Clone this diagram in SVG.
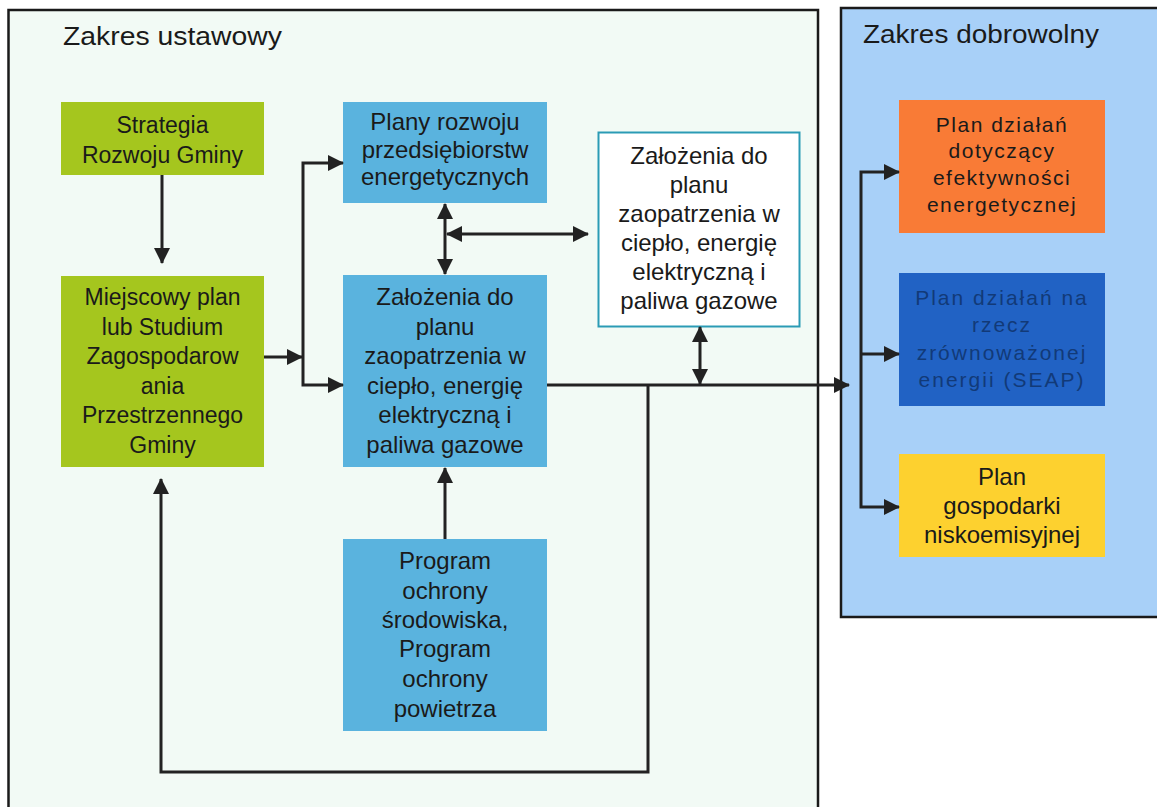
<svg xmlns="http://www.w3.org/2000/svg" width="1157" height="807" viewBox="0 0 1157 807">
<style>
text{font-family:"Liberation Sans",Arial,sans-serif;fill:#1a1a1a;text-anchor:middle}
.title{font-size:26px;text-anchor:start}
.t23{font-size:23px}
.t24{font-size:24px}
.t21{font-size:21px;letter-spacing:1.5px}
.seap{font-size:21px;letter-spacing:2px;fill:#123a78}
.t24y{font-size:24px}
.conn{fill:none;stroke:#222;stroke-width:3}
</style>
<defs>
<marker id="ah" markerUnits="userSpaceOnUse" viewBox="0 0 16 16" refX="15" refY="8" markerWidth="16" markerHeight="16" orient="auto-start-reverse">
<path d="M0,0 L16,8 L0,16 z" fill="#222"/>
</marker>
</defs>
<rect width="1157" height="807" fill="#ffffff"/>
<g id="panel-ustawowy">
<rect x="8.5" y="10" width="809.5" height="820" fill="#f2faf5" stroke="#1a1a1a" stroke-width="2.5"/>
<text class="title" x="63" y="45" textLength="219" lengthAdjust="spacingAndGlyphs">Zakres ustawowy</text>
</g>
<g id="panel-dobrowolny">
<rect x="841" y="8" width="330" height="609" fill="#a8d0f8" stroke="#1a1a1a" stroke-width="2.5"/>
<text class="title" x="863" y="43" textLength="236" lengthAdjust="spacingAndGlyphs">Zakres dobrowolny</text>
</g>
<g id="strategia">
<rect x="61" y="102" width="203" height="73" fill="#a5c61e"/>
<text class="t23" x="162.5" y="133">Strategia</text>
<text class="t23" x="162.5" y="163">Rozwoju Gminy</text>
</g>
<g id="miejscowy">
<rect x="61" y="276" width="203" height="191" fill="#a5c61e"/>
<text class="t23" x="162.5" y="305">Miejscowy plan</text>
<text class="t23" x="162.5" y="334.5">lub Studium</text>
<text class="t23" x="162.5" y="364">Zagospodarow</text>
<text class="t23" x="162.5" y="393.5">ania</text>
<text class="t23" x="162.5" y="423">Przestrzennego</text>
<text class="t23" x="162.5" y="452.5">Gminy</text>
</g>
<g id="plany">
<rect x="343" y="102" width="204" height="101" fill="#5ab3de"/>
<text class="t24" x="445" y="130">Plany rozwoju</text>
<text class="t24" x="445" y="157.5">przedsiębiorstw</text>
<text class="t24" x="445" y="185">energetycznych</text>
</g>
<g id="zalozenia">
<rect x="343" y="275" width="204" height="192" fill="#5ab3de"/>
<text class="t24" x="445" y="305">Założenia do</text>
<text class="t24" x="445" y="334.5">planu</text>
<text class="t24" x="445" y="364">zaopatrzenia w</text>
<text class="t24" x="445" y="393.5">ciepło, energię</text>
<text class="t24" x="445" y="423">elektryczną i</text>
<text class="t24" x="445" y="452.5">paliwa gazowe</text>
</g>
<g id="zalozenia-gmina">
<rect x="598.5" y="132.5" width="201" height="194" fill="#ffffff" stroke="#2b9bb5" stroke-width="2"/>
<text class="t24" x="699" y="164">Założenia do</text>
<text class="t24" x="699" y="193">planu</text>
<text class="t24" x="699" y="222">zaopatrzenia w</text>
<text class="t24" x="699" y="251">ciepło, energię</text>
<text class="t24" x="699" y="280">elektryczną i</text>
<text class="t24" x="699" y="309">paliwa gazowe</text>
</g>
<g id="program">
<rect x="343" y="539" width="204" height="192" fill="#5ab3de"/>
<text class="t24" x="445" y="569">Program</text>
<text class="t24" x="445" y="599">ochrony</text>
<text class="t24" x="445" y="628">środowiska,</text>
<text class="t24" x="445" y="657">Program</text>
<text class="t24" x="445" y="687">ochrony</text>
<text class="t24" x="445" y="717">powietrza</text>
</g>
<g id="efektywnosc">
<rect x="899" y="100" width="206" height="133" fill="#f97b36"/>
<text class="t21" x="1002" y="132">Plan działań</text>
<text class="t21" x="1002" y="158">dotyczący</text>
<text class="t21" x="1002" y="185">efektywności</text>
<text class="t21" x="1002" y="212">energetycznej</text>
</g>
<g id="seap">
<rect x="899" y="273" width="206" height="133" fill="#2162c4"/>
<text class="seap" x="1002" y="305">Plan działań na</text>
<text class="seap" x="1002" y="332">rzecz</text>
<text class="seap" x="1002" y="360">zrównoważonej</text>
<text class="seap" x="1002" y="387">energii (SEAP)</text>
</g>
<g id="niskoemisyjna">
<rect x="899" y="454" width="206" height="103" fill="#fdd12f"/>
<text class="t24y" x="1002" y="485">Plan</text>
<text class="t24y" x="1002" y="514">gospodarki</text>
<text class="t24y" x="1002" y="543">niskoemisyjnej</text>
</g>
<g id="connectors">
<path class="conn" d="M162,175 L162,263" marker-end="url(#ah)"/>
<path class="conn" d="M264,357 L302,357" marker-end="url(#ah)"/>
<path class="conn" d="M303,270 L303,163 L343,163" marker-end="url(#ah)"/>
<path class="conn" d="M303,270 L303,385 L343,385" marker-end="url(#ah)"/>
<path class="conn" d="M445,204 L445,274" marker-start="url(#ah)" marker-end="url(#ah)"/>
<path class="conn" d="M447,234 L588,234" marker-start="url(#ah)" marker-end="url(#ah)"/>
<path class="conn" d="M445,539 L445,468" marker-end="url(#ah)"/>
<path class="conn" d="M547,385 L849,385" marker-end="url(#ah)"/>
<path class="conn" d="M700,327 L700,384" marker-start="url(#ah)" marker-end="url(#ah)"/>
<path class="conn" d="M648,385 L648,772 L161,772 L161,479" marker-end="url(#ah)"/>
<path class="conn" d="M861,354 L861,172 L899,172" marker-end="url(#ah)"/>
<path class="conn" d="M861,354 L899,354" marker-end="url(#ah)"/>
<path class="conn" d="M861,354 L861,507 L899,507" marker-end="url(#ah)"/>
</g>
</svg>
